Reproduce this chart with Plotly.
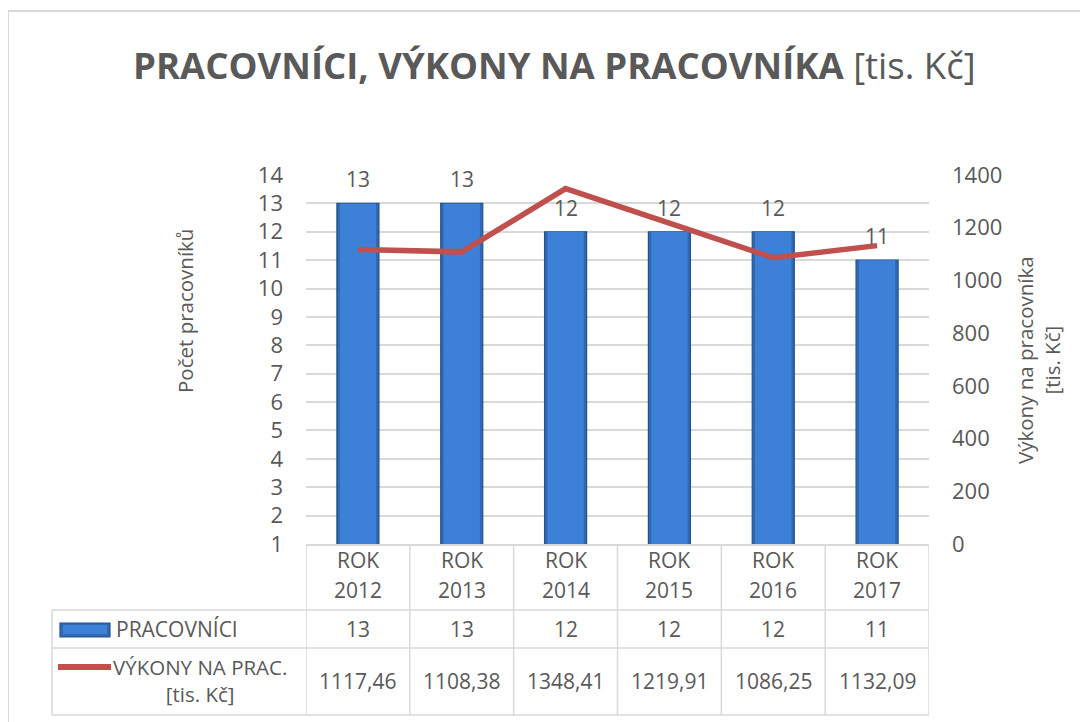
import plotly.graph_objects as go

# ---- data ----
categories = ["ROK 2012", "ROK 2013", "ROK 2014", "ROK 2015", "ROK 2016", "ROK 2017"]
pracovnici = [13, 13, 12, 12, 12, 11]
vykony = [1117.46, 1108.38, 1348.41, 1219.91, 1086.25, 1132.09]
left_ticks = list(range(1, 15))
right_ticks = [0, 200, 400, 600, 800, 1000, 1200, 1400]
bar_name = "PRACOVNÍCI"
line_name = "VÝKONY NA PRAC.<br>[tis. Kč]"
title_bold = "PRACOVNÍCI, VÝKONY NA PRACOVNÍKA"
title_rest = " [tis. Kč]"
left_title = "Počet pracovníků"
right_title = "Výkony na pracovníka<br>[tis. Kč]"

# ---- style ----
FONT = "Open Sans"
TXT = "#595959"
GRID = "#D9D9D9"
BAR_DARK = "#3068B2"
BAR = "#3D80D8"
BAR_EDGE = "#24528F"
RED = "#C0504D"

OFF = 8  # page body margin
W, H = 1088 - OFF, 722 - OFF
L, R, T, B = 306, 929, 175, 544  # plot area in reference pixels
PW, PH = R - L, B - T


def px(x):
    return (x - L) / PW


def py(y):
    return (B - y) / PH


fig = go.Figure()
# bar body (darker bevel edges)
fig.add_trace(go.Bar(
    x=categories, y=pracovnici, name=bar_name, width=0.405,
    marker=dict(color=BAR_DARK, line=dict(color=BAR_EDGE, width=1.2)),
    yaxis="y", showlegend=False, hoverinfo="skip",
))
# bar face (lighter center)
fig.add_trace(go.Bar(
    x=categories, y=pracovnici, name=bar_name, width=0.35,
    marker=dict(color=BAR, line=dict(width=0)),
    yaxis="y", showlegend=False,
))
fig.add_trace(go.Scatter(
    x=categories, y=vykony, name=line_name, mode="lines",
    line=dict(color=RED, width=5.5), yaxis="y2", showlegend=False,
))

annotations = []
shapes = []
FS = 21

# bar value labels
for c, v in zip(categories, pracovnici):
    annotations.append(dict(x=c, y=v, xref="x", yref="y", text=str(v), showarrow=False,
                            yanchor="middle", yshift=24, font=dict(family=FONT, size=FS, color=TXT)))

# title
annotations.append(dict(x=px(554), y=py(65), xref="paper", yref="paper",
                        text=f"<b>{title_bold}</b>{title_rest}", showarrow=False,
                        xanchor="center", yanchor="middle",
                        font=dict(family=FONT, size=36.5, color=TXT)))
# axis titles
annotations.append(dict(x=px(185), y=py(311), xref="paper", yref="paper", text=left_title,
                        textangle=-90, showarrow=False, xanchor="center", yanchor="middle",
                        font=dict(family=FONT, size=20.5, color=TXT)))
annotations.append(dict(x=px(1038), y=py(360), xref="paper", yref="paper", text=right_title,
                        textangle=-90, showarrow=False, xanchor="center", yanchor="middle",
                        font=dict(family=FONT, size=20.5, color=TXT)))

# data table: header (categories)
for c in categories:
    first, second = c.split(" ", 1)
    annotations.append(dict(x=c, y=py(560), xref="x", yref="paper", text=first, showarrow=False,
                            yanchor="middle", font=dict(family=FONT, size=FS, color=TXT)))
    annotations.append(dict(x=c, y=py(590), xref="x", yref="paper", text=second, showarrow=False,
                            yanchor="middle", font=dict(family=FONT, size=FS, color=TXT)))
# table rows
for c, v in zip(categories, pracovnici):
    annotations.append(dict(x=c, y=py(629), xref="x", yref="paper", text=str(v), showarrow=False,
                            yanchor="middle", font=dict(family=FONT, size=FS, color=TXT)))
for c, v in zip(categories, vykony):
    annotations.append(dict(x=c, y=py(681), xref="x", yref="paper",
                            text=f"{v:.2f}".replace(".", ","), showarrow=False,
                            yanchor="middle", font=dict(family=FONT, size=FS, color=TXT)))
# row labels (legend)
annotations.append(dict(x=px(114), y=py(629), xref="paper", yref="paper", text=bar_name,
                        showarrow=False, xanchor="left", yanchor="middle",
                        font=dict(family=FONT, size=FS, color=TXT)))
annotations.append(dict(x=px(200), y=py(680), xref="paper", yref="paper", text=line_name,
                        showarrow=False, xanchor="center", yanchor="middle", align="center",
                        font=dict(family=FONT, size=20.5, color=TXT)))

# legend keys
shapes.append(dict(type="rect", xref="paper", yref="paper", x0=px(60), x1=px(110),
                   y0=py(637), y1=py(623), fillcolor=BAR_DARK, line=dict(color=BAR_EDGE, width=1.2)))
shapes.append(dict(type="rect", xref="paper", yref="paper", x0=px(63), x1=px(107),
                   y0=py(634), y1=py(625), fillcolor=BAR, line=dict(width=0)))
shapes.append(dict(type="line", xref="paper", yref="paper", x0=px(58), x1=px(111),
                   y0=py(667), y1=py(667), line=dict(color=RED, width=6)))

# table grid lines
lw = 1.5
for yy in (610, 648, 715):
    shapes.append(dict(type="line", xref="paper", yref="paper", x0=px(52), x1=1,
                       y0=py(yy), y1=py(yy), line=dict(color=GRID, width=lw)))
for i in range(len(categories) + 1):
    shapes.append(dict(type="line", xref="x", yref="paper", x0=i - 0.5, x1=i - 0.5,
                       y0=0, y1=py(715), line=dict(color=GRID, width=lw)))
shapes.append(dict(type="line", xref="paper", yref="paper", x0=px(52), x1=px(52),
                   y0=py(610), y1=py(715), line=dict(color=GRID, width=lw)))

# outer chart border (top and left visible)
shapes.append(dict(type="line", xref="paper", yref="paper", x0=px(8), x1=px(1200),
                   y0=py(11), y1=py(11), line=dict(color=GRID, width=2)))
shapes.append(dict(type="line", xref="paper", yref="paper", x0=px(8), x1=px(8),
                   y0=py(11), y1=py(800), line=dict(color=GRID, width=2)))

fig.update_layout(
    width=W, height=H,
    margin=dict(l=L - OFF, r=W - (R - OFF), t=T - OFF, b=H - (B - OFF), autoexpand=False),
    paper_bgcolor="white", plot_bgcolor="white",
    font=dict(family=FONT, color=TXT, size=FS),
    showlegend=False,
    barmode="overlay",
    xaxis=dict(type="category", showticklabels=False, showgrid=False, showline=True,
               linecolor=GRID, linewidth=lw, ticks="", range=[-0.5, len(categories) - 0.5],
               zeroline=False),
    yaxis=dict(range=[1, 14], tickvals=left_ticks, ticktext=[str(t) for t in left_ticks],
               showgrid=True, gridcolor=GRID, gridwidth=1.5, showline=False, zeroline=False,
               ticks="", ticklabelstandoff=22, tickfont=dict(family=FONT, size=22, color=TXT)),
    yaxis2=dict(range=[0, 1400], tickvals=right_ticks, ticktext=[str(t) for t in right_ticks],
                overlaying="y", side="right", showgrid=False, showline=False, zeroline=False,
                ticks="", ticklabelstandoff=22, tickfont=dict(family=FONT, size=22, color=TXT)),
    annotations=annotations,
    shapes=shapes,
)

fig.write_html("out.html")
